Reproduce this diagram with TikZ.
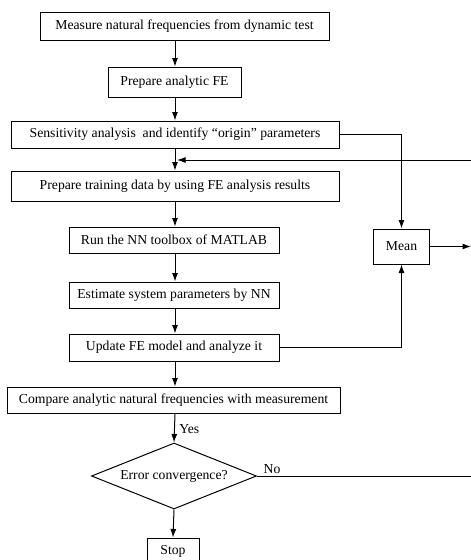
\documentclass[tikz,border=0pt]{standalone}
\usepackage{fontspec}
\setmainfont{Liberation Serif}
\usetikzlibrary{shapes.geometric,arrows.meta,calc}
\begin{document}
\begin{tikzpicture}[x=1pt,y=-1pt,
  every node/.style={font=\fontsize{13.7}{16}\selectfont},
  box/.style={draw,line width=1pt,rectangle,inner sep=0pt,anchor=center},
  arr/.style={line width=1pt,-{Latex[length=8.5pt,width=6pt]}},
  ln/.style={line width=1pt}]
\clip (0,0) rectangle (471,560);
\fill[white] (0,0) rectangle (471,560);
\coordinate (ax) at (175,0);
\node[box,minimum width=289pt,minimum height=28pt] (b1) at (184.5,26) {Measure natural frequencies from dynamic test};
\node[box,minimum width=133pt,minimum height=30pt] (b2) at (174.5,82) {Prepare analytic FE};
\node[box,minimum width=328pt,minimum height=27pt] (b3) at (175,134.5) {Sensitivity analysis~ and identify “origin” parameters};
\node[box,minimum width=328pt,minimum height=30pt] (b4) at (175,186) {Prepare training data by using FE analysis results};
\node[box,minimum width=210pt,minimum height=26pt] (b5) at (174,240) {Run the NN toolbox of MATLAB};
\node[box,minimum width=210pt,minimum height=26pt] (b6) at (174,295) {Estimate system parameters by NN};
\node[box,minimum width=210pt,minimum height=27pt] (b7) at (174,347.5) {Update FE model and analyze it};
\node[box,minimum width=333pt,minimum height=26pt] (b8) at (173.5,400) {Compare analytic natural frequencies with measurement};
\node[draw,line width=1pt,diamond,aspect=2.5,inner sep=0pt,minimum width=165pt,minimum height=66pt] (dia) at (174,476) {Error convergence?};
\node[box,minimum width=52pt,minimum height=26pt] (stop) at (173,551) {Stop};
\node[box,minimum width=56pt,minimum height=35pt] (mean) at (401.5,246.5) {Mean};
\coordinate (fbR) at (471,160);
\coordinate (meanR) at (471,246.5);
\coordinate (noR) at (471,476);
% main flow
\draw[arr] (b1.south -| ax) -- (b2.north -| ax);
\draw[arr] (b2.south -| ax) -- (b3.north -| ax);
\draw[arr] (b3.south -| ax) -- (b4.north -| ax);
\draw[arr] (b4.south -| ax) -- (b5.north -| ax);
\draw[arr] (b5.south -| ax) -- (b6.north -| ax);
\draw[arr] (b6.south -| ax) -- (b7.north -| ax);
\draw[arr] (b7.south -| ax) -- (b8.north -| ax);
\draw[arr] (b8.south -| ax) -- node[right,xshift=1pt,yshift=-3pt,pos=0.45] (yes) {Yes} (dia.north);
\draw[arr] (dia.south) -- (stop.north);
% side branches
\draw[arr] (b3.east) -| (mean.north);
\draw[arr] (b7.east) -| (mean.south);
\draw[arr] (mean.east) -- (meanR);
\draw[arr] (fbR) -- ($(ax |- fbR)+(2,0)$);
\draw[ln] (dia.east) -- node[above,pos=0.07,yshift=-1pt] (no) {No} (noR);
\end{tikzpicture}
\end{document}
